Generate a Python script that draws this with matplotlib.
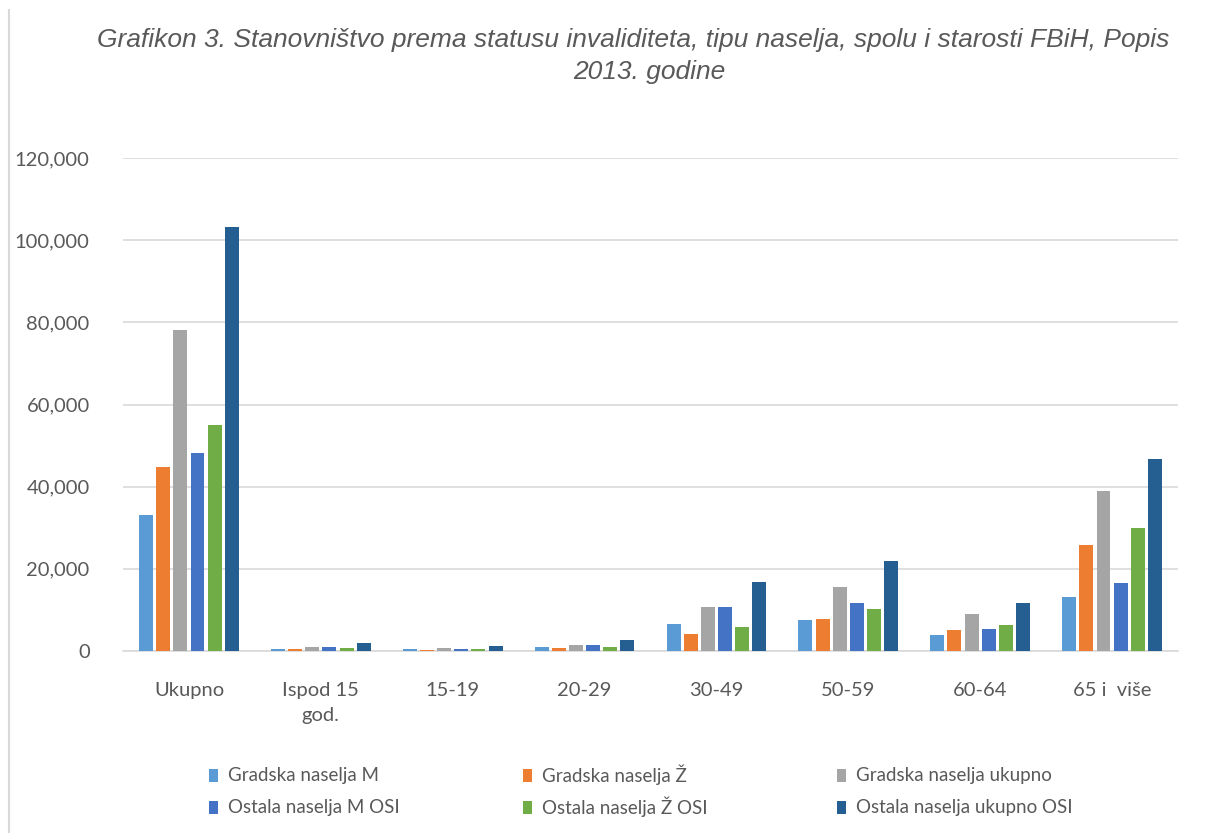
import matplotlib
matplotlib.use("Agg")
import matplotlib.pyplot as plt
import numpy as np
from matplotlib.lines import Line2D
from matplotlib.patches import Rectangle
from matplotlib.ticker import FuncFormatter

categories = ["Ukupno", "Ispod 15\ngod.", "15-19", "20-29", "30-49", "50-59", "60-64", "65 i  više"]
series_names = ["Gradska naselja M", "Gradska naselja Ž", "Gradska naselja ukupno",
                "Ostala naselja M OSI", "Ostala naselja Ž OSI", "Ostala naselja ukupno OSI"]
gradska_m = [33200, 400, 400, 900, 6600, 7600, 3900, 13200]
gradska_z = [44700, 500, 200, 650, 4100, 7800, 5100, 25900]
gradska_uk = [78200, 900, 650, 1400, 10700, 15600, 9000, 39000]
ostala_m = [48100, 900, 400, 1400, 10700, 11700, 5400, 16600]
ostala_z = [55100, 700, 400, 900, 5900, 10200, 6300, 30000]
ostala_uk = [103300, 1900, 1100, 2600, 16800, 21900, 11700, 46800]
colors = ["#5B9BD5", "#ED7D31", "#A5A5A5", "#4472C4", "#70AD47", "#255E91"]

series = [gradska_m, gradska_z, gradska_uk, ostala_m, ostala_z, ostala_uk]

plt.rcParams['font.family'] = ['Lato', 'DejaVu Sans']
W, H = 1220, 833
fig = plt.figure(figsize=(W/100, H/100), dpi=100)
ax = fig.add_axes([123/W, 1 - 651/H, (1178-123)/W, (651-158)/H])

x = np.arange(len(categories))
w = 0.106
pitch = 0.13
for i, (vals, c, name) in enumerate(zip(series, colors, series_names)):
    ax.bar(x + (i - 2.5) * pitch, vals, width=w, color=c, label=name, zorder=3)

ax.set_xlim(-0.5, len(categories) - 0.5)
ax.set_ylim(0, 120000)
ax.set_yticks(np.arange(0, 120001, 20000))
ax.yaxis.set_major_formatter(FuncFormatter(lambda v, p: f"{int(v):,}"))
ax.grid(axis='y', color='#D9D9D9', linewidth=1.2, zorder=0)
for s in ['top', 'right', 'left']:
    ax.spines[s].set_visible(False)
ax.spines['bottom'].set_color('#D9D9D9')
ax.spines['bottom'].set_linewidth(1.2)
ax.tick_params(axis='both', length=0, labelsize=14.5, colors='#595959')
ax.tick_params(axis='y', pad=24)
ax.tick_params(axis='x', pad=22)
ax.set_xticks(x)
ax.set_xticklabels(categories, linespacing=1.6)

fig.text(633/W, 1 - 40/H, "Grafikon 3. Stanovništvo prema statusu invaliditeta, tipu naselja, spolu i starosti FBiH, Popis",
         ha='center', va='center', fontsize=19, style='italic', color='#595959', family='Liberation Sans')
fig.text(649/W, 1 - 72/H, "2013. godine",
         ha='center', va='center', fontsize=19, style='italic', color='#595959', family='Liberation Sans')

# legend: 3 columns x 2 rows, row-major order
col_x = [209, 523, 837]
row_y = [775, 807]
for i, (name, c) in enumerate(zip(series_names, colors)):
    cx = col_x[i % 3]
    ry = row_y[i // 3]
    fig.add_artist(Rectangle((cx/W, 1 - (ry + 7)/H), 9/W, 13/H, transform=fig.transFigure,
                             facecolor=c, edgecolor='none'))
    fig.text((cx + 19)/W, 1 - ry/H, name, ha='left', va='center', fontsize=13.5,
             color='#595959')

fig.add_artist(Line2D([9/W, 9/W], [0, 1 - 10/H], transform=fig.transFigure,
                      color='#D9D9D9', linewidth=1.5))

fig.savefig("out.png", dpi=100, facecolor='white')
